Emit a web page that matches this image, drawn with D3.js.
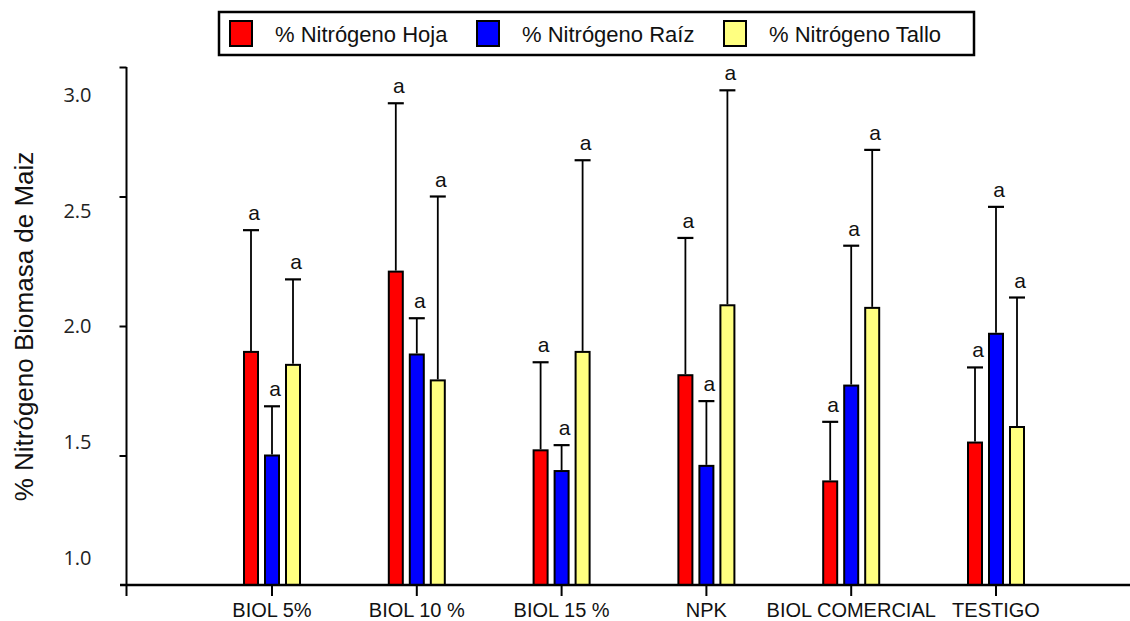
<!DOCTYPE html>
<html>
<head>
<meta charset="utf-8">
<script src="https://cdn.jsdelivr.net/npm/d3@7"></script>
<style>
  body { margin: 0; background: #fff; }
  svg { display: block; }
</style>
</head>
<body>
<div id="chart"></div>
<script>
var categories = ["BIOL 5%", "BIOL 10 %", "BIOL 15 %", "NPK", "BIOL COMERCIAL", "TESTIGO"];
var seriesNames = ["% Nitrógeno Hoja", "% Nitrógeno Raíz", "% Nitrógeno Tallo"];
var hoja = [1.90, 2.21, 1.52, 1.81, 1.40, 1.55];
var hojaErr = [0.47, 0.65, 0.34, 0.53, 0.23, 0.29];
var raiz = [1.50, 1.89, 1.44, 1.46, 1.77, 1.97];
var raizErr = [0.19, 0.14, 0.10, 0.25, 0.54, 0.49];
var tallo = [1.85, 1.79, 1.90, 2.08, 2.07, 1.61];
var talloErr = [0.33, 0.71, 0.74, 0.83, 0.61, 0.50];
var letters = ["a", "a", "a", "a", "a", "a"];
var yTicks = [1.0, 1.5, 2.0, 2.5, 3.0];
var colors = ["#ff0000", "#0000ff", "#ffff80"];

var svgWidth = 1130;
var svgHeight = 621;

var svg = d3.select("#chart")
  .append("svg")
  .attr("width", svgWidth)
  .attr("height", svgHeight);

svg.append("rect")
  .attr("width", svgWidth)
  .attr("height", svgHeight)
  .attr("fill", "#fff");

var values = [hoja, raiz, tallo];
var errors = [hojaErr, raizErr, talloErr];

// flat list of bars
var bars = [];
categories.forEach(function(c, i) {
  seriesNames.forEach(function(s, j) {
    bars.push({cat: c, ser: s, idx: j, v: values[j][i], e: errors[j][i], letter: letters[i]});
  });
});

var x = d3.scaleBand()
  .domain(categories)
  .range([199.6, 1068.4]);

var x1 = d3.scaleBand()
  .domain(seriesNames)
  .range([-28, 28])
  .paddingInner(1 / 3);

var y = d3.scaleLinear()
  .domain([1, 3])
  .range([585, 67]);

// tick labels in the source sit a little inside the axis ends
var yLab = d3.scaleLinear()
  .domain([1, 3])
  .range([558, 95]);

function cx(d) { return x(d.cat) + x.bandwidth() / 2; }

// bars
svg.append("g").selectAll("rect")
  .data(bars)
  .enter()
  .append("rect")
  .attr("x", function(d) { return cx(d) + x1(d.ser); })
  .attr("y", function(d) { return y(d.v); })
  .attr("width", x1.bandwidth())
  .attr("height", function(d) { return y(1) - y(d.v); })
  .attr("fill", function(d) { return colors[d.idx]; })
  .attr("stroke", "#000")
  .attr("stroke-width", 2);

// error bars (upper only)
var eb = svg.append("g")
  .attr("stroke", "#000")
  .attr("stroke-width", 1.8);

eb.selectAll("line.v")
  .data(bars)
  .enter()
  .append("line")
  .attr("class", "v")
  .attr("x1", function(d) { return cx(d) + x1(d.ser) + x1.bandwidth() / 2; })
  .attr("x2", function(d) { return cx(d) + x1(d.ser) + x1.bandwidth() / 2; })
  .attr("y1", function(d) { return y(d.v) - 1; })
  .attr("y2", function(d) { return y(d.v + d.e); });

eb.selectAll("line.c")
  .data(bars)
  .enter()
  .append("line")
  .attr("class", "c")
  .attr("x1", function(d) { return cx(d) + x1(d.ser) + x1.bandwidth() / 2 - 8; })
  .attr("x2", function(d) { return cx(d) + x1(d.ser) + x1.bandwidth() / 2 + 8; })
  .attr("y1", function(d) { return y(d.v + d.e); })
  .attr("y2", function(d) { return y(d.v + d.e); })
  .attr("stroke-width", 2.2);

// letters, with white box behind like the source
var lab = svg.append("g").selectAll("g")
  .data(bars)
  .enter()
  .append("g")
  .attr("transform", function(d) {
    return "translate(" + (cx(d) + x1(d.ser) + x1.bandwidth() / 2 + 3) + "," + (y(d.v + d.e) - 10) + ")";
  });

lab.append("rect")
  .attr("x", -9)
  .attr("y", -20)
  .attr("width", 18)
  .attr("height", 27)
  .attr("fill", "#fff");

lab.append("text")
  .attr("text-anchor", "middle")
  .attr("font-family", "Liberation Sans, Arial, sans-serif")
  .attr("font-size", 21)
  .attr("fill", "#111")
  .text(function(d) { return d.letter; });

// y axis
svg.append("line")
  .attr("x1", 126.5).attr("x2", 126.5)
  .attr("y1", y(3)).attr("y2", 596)
  .attr("stroke", "#000").attr("stroke-width", 2);

var yAxis = svg.append("g")
  .attr("transform", "translate(126.5,0)")
  .call(d3.axisLeft(y).tickValues(yTicks.slice(1)).tickSize(7).tickFormat(""));
yAxis.select(".domain").remove();
yAxis.selectAll("line").attr("stroke-width", 2);

var yLabels = svg.append("g")
  .attr("transform", "translate(126.5,0)")
  .call(d3.axisLeft(yLab).tickValues(yTicks).tickSize(0).tickPadding(35).tickFormat(d3.format(".1f")));
yLabels.select(".domain").remove();
yLabels.selectAll("text")
  .attr("font-family", "Open Sans, sans-serif")
  .attr("font-size", 20)
  .attr("fill", "#222");

// x axis
svg.append("line")
  .attr("x1", 120).attr("x2", 1130)
  .attr("y1", 585).attr("y2", 585)
  .attr("stroke", "#000").attr("stroke-width", 2.5);

var xAxis = svg.append("g")
  .attr("transform", "translate(0,585)")
  .call(d3.axisBottom(x).tickSize(11).tickPadding(7));
xAxis.select(".domain").remove();
xAxis.selectAll("line").attr("stroke-width", 2);
xAxis.selectAll("text")
  .attr("font-family", "Liberation Sans, Arial, sans-serif")
  .attr("font-size", 20)
  .attr("fill", "#111");

// y title
svg.append("text")
  .attr("transform", "translate(33,326.5) rotate(-90)")
  .attr("text-anchor", "middle")
  .attr("font-family", "Liberation Sans, Arial, sans-serif")
  .attr("font-size", 26)
  .attr("fill", "#111")
  .text("% Nitrógeno Biomasa de Maiz");

// legend
var legend = svg.append("g");
legend.append("rect")
  .attr("x", 219).attr("y", 12)
  .attr("width", 755).attr("height", 43)
  .attr("fill", "#fff")
  .attr("stroke", "#000")
  .attr("stroke-width", 2.5);

var items = legend.selectAll("g.item")
  .data(seriesNames)
  .enter()
  .append("g")
  .attr("class", "item")
  .attr("transform", function(d, i) { return "translate(" + (230 + i * 247) + ",0)"; });

items.append("rect")
  .attr("x", 0).attr("y", 21)
  .attr("width", 22).attr("height", 25)
  .attr("fill", function(d, i) { return colors[i]; })
  .attr("stroke", "#000")
  .attr("stroke-width", 2);

items.append("text")
  .attr("x", 45).attr("y", 41.5)
  .attr("font-family", "Liberation Sans, Arial, sans-serif")
  .attr("font-size", 22)
  .attr("fill", "#111")
  .text(function(d) { return d; });
</script>
</body>
</html>
